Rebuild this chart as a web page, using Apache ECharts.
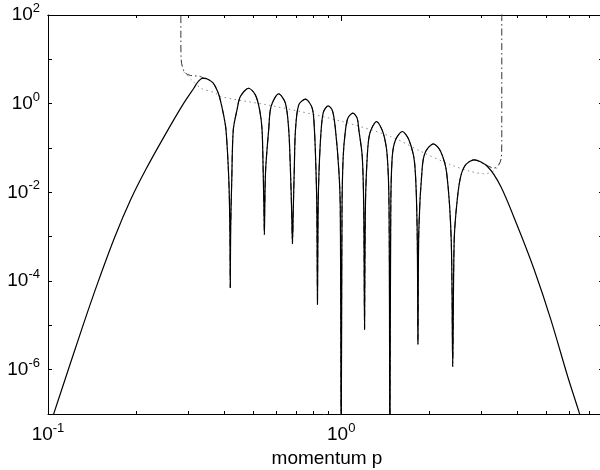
<!DOCTYPE html>
<html>
<head>
<meta charset="utf-8">
<script src="https://cdn.jsdelivr.net/npm/echarts@6/dist/echarts.min.js"></script>
<style>
  html, body { margin: 0; padding: 0; background: #fff; }
  #main { width: 600px; height: 470px; }
</style>
</head>
<body>
<div id="main"></div>
<script>
// solid curve: momentum p, value
var solidP = [0.1040, 0.1320, 0.1483, 0.1691, 0.1913, 0.2153, 0.2508, 0.2880, 0.3142, 0.3267, 0.3385,
  0.3520, 0.3662, 0.3810, 0.3868, 0.3970, 0.4046, 0.4137, 0.4172, 0.4185,
  0.4197, 0.4234, 0.4285, 0.4412, 0.4529, 0.4834, 0.5095, 0.5270, 0.5371, 0.5417, 0.5452, 0.5470,
  0.5485, 0.5524, 0.5658, 0.5764, 0.6121, 0.6452, 0.6622, 0.6711, 0.6775, 0.6819,
  0.6864, 0.6917, 0.6983, 0.7165, 0.7551, 0.7963, 0.8103, 0.8202, 0.8260, 0.8299,
  0.8340, 0.8405, 0.8544, 0.8700, 0.9029, 0.9339, 0.9561, 0.9813, 0.9929, 1.0000,
  1.0063, 1.0158, 1.0344, 1.0549, 1.0954, 1.1324, 1.1484, 1.1796, 1.1937, 1.2012,
  1.2087, 1.2269, 1.2523, 1.3199, 1.3913, 1.4359, 1.4562, 1.4655,
  1.4758, 1.4933, 1.5327, 1.6156, 1.7014, 1.7798, 1.8155, 1.8269,
  1.8401, 1.8910, 1.9410, 2.0628, 2.1840, 2.2895, 2.3725, 2.4006,
  2.4289, 2.4871, 2.5562, 2.6586, 2.8379, 3.1539, 3.5016, 3.9940, 4.5500, 5.1880, 5.9180, 6.4820, 6.5690];
var solidV = [9e-8, 1.05e-5, 9.7e-5, 1.0e-3, 6.8e-3, 0.0323, 0.198, 0.94, 2.23, 3.27, 3.75,
  3.52, 2.90, 1.72, 1.218, 0.56, 0.257, 0.0192, 1.45e-3, 7.08e-5,
  1.45e-3, 0.0192, 0.257, 0.724, 1.445, 2.23, 1.578, 0.724, 0.257, 0.0324, 4.07e-3, 1.11e-3,
  4.07e-3, 0.0324, 0.257, 0.861, 1.663, 1.026, 0.257, 0.0324, 4.07e-3, 6.9e-4,
  4.07e-3, 0.0324, 0.257, 0.94, 1.262, 0.792, 0.257, 0.0324, 4.07e-3, 2.95e-5,
  4.07e-3, 0.0324, 0.257, 0.653, 0.891, 0.689, 0.257, 0.0324, 4.07e-3, 1e-8,
  4.07e-3, 0.0644, 0.257, 0.479, 0.611, 0.479, 0.257, 0.0644, 4.07e-3, 8.1e-6,
  4.07e-3, 0.0644, 0.216, 0.395, 0.216, 0.0644, 4.07e-3, 1e-8,
  4.07e-3, 0.0644, 0.153, 0.2355, 0.153, 0.0457, 1.45e-3, 3.7e-6,
  1.45e-3, 0.0383, 0.0834, 0.1245, 0.0834, 0.0272, 8.5e-4, 1.17e-6,
  8.5e-4, 6.8e-3, 0.0228, 0.0419, 0.0542, 0.0383, 0.01355, 1.71e-3, 1.81e-4, 1.35e-5, 7.1e-7, 1.07e-7, 7.6e-8];

// dotted curve
var dotP = [0.2898, 0.3088, 0.3332, 0.3718, 0.3868, 0.5587, 0.7261, 1.010, 1.474, 1.911, 2.363, 2.765, 3.070, 3.322, 3.474];
var dotV = [5.28, 3.44, 2.21, 1.75, 1.445, 0.94, 0.664, 0.395, 0.1816, 0.078, 0.0419, 0.0296, 0.0262, 0.0306, 0.0465];

// dash-dot curve: walls on both ends, solid curve in between
var wallLeftP = [0.2839, 0.2839, 0.2846, 0.2880, 0.2938, 0.3055, 0.3306];
var wallLeftV = [200, 27.4, 9.69, 6.4, 4.94, 4.34, 4.12];
var wallRightP = [3.063, 3.322, 3.446, 3.515, 3.529, 3.529];
var wallRightV = [0.044, 0.0352, 0.0419, 0.0601, 0.153, 200];
var dashFrom = 0.3385, dashTo = 2.8379;

// axes
var xMin = 0.1, xMax = 8, yMin = 1e-7, yMax = 100;
var xMajorTicks = [0.1, 1];
var xMinorTicks = [0.2, 0.3, 0.4, 0.5, 0.6, 0.7, 0.8, 0.9, 2, 3, 4, 5, 6, 7, 8];

var font = 'Liberation Sans, Arial, Helvetica, sans-serif';

function pairs(xs, ys) {
  return xs.map(function (x, i) { return [x, ys[i]]; });
}

var dashP = [], dashV = [];
solidP.forEach(function (p, i) {
  if (p >= dashFrom && p <= dashTo) { dashP.push(p); dashV.push(solidV[i]); }
});
dashP = wallLeftP.concat(dashP, wallRightP);
dashV = wallLeftV.concat(dashV, wallRightV);

function expOf(v) {
  var l = Math.log(v) / Math.LN10;
  var e = Math.round(l);
  return Math.abs(l - e) < 1e-6 ? e : null;
}
var rich = {
  b: { fontSize: 19, fontFamily: font, color: '#000', lineHeight: 26 },
  s: { fontSize: 13, fontFamily: font, color: '#000', verticalAlign: 'top', lineHeight: 26 }
};

// an extra x axis that only carries inward ticks
function tickAxis(pos, values, len) {
  return {
    type: 'log', logBase: 10, min: xMin, max: xMax, position: pos,
    axisLine: { show: pos === 'top', lineStyle: { color: '#000', width: 1 } },
    axisTick: { show: true, inside: true, length: len, customValues: values, lineStyle: { color: '#000', width: 1 } },
    axisLabel: { show: false },
    splitLine: { show: false }
  };
}

var chart = echarts.init(document.getElementById('main'));

var option = {
  animation: false,
  grid: { left: 48, top: 15, width: 558, height: 399, outerBoundsMode: 'none' },
  xAxis: [{
    type: 'log', logBase: 10, min: xMin, max: xMax,
    axisLine: { show: true, lineStyle: { color: '#000', width: 1 } },
    axisTick: { show: true, inside: true, length: 6, customValues: xMajorTicks, lineStyle: { color: '#000', width: 1 } },
    splitLine: { show: false },
    axisLabel: {
      margin: 8,
      customValues: xMajorTicks,
      formatter: function (v) {
        var e = expOf(v);
        return e === null ? '' : '{b|10}{s|' + e + '}';
      },
      rich: rich
    },
    name: 'momentum p',
    nameLocation: 'middle',
    nameGap: 33,
    nameTextStyle: { fontSize: 19, fontFamily: font, color: '#000' }
  },
  tickAxis('bottom', xMinorTicks, 3),
  tickAxis('top', xMajorTicks, 6),
  tickAxis('top', xMinorTicks, 3)
  ],
  yAxis: [{
    type: 'log', logBase: 10, min: yMin, max: yMax, splitNumber: 9,
    axisLine: { show: true, lineStyle: { color: '#000', width: 1 } },
    axisTick: { show: true, inside: true, length: 4, lineStyle: { color: '#000' } },
    splitLine: { show: false },
    axisLabel: {
      margin: 8,
      formatter: function (v) {
        var e = expOf(v);
        return (e === null || e % 2 !== 0) ? '' : '{b|10}{s|' + e + '}';
      },
      rich: rich
    }
  }, {
    type: 'log', logBase: 10, min: yMin, max: yMax, splitNumber: 9, position: 'right',
    axisLine: { show: true, lineStyle: { color: '#000', width: 1 } },
    axisTick: { show: true, inside: true, length: 7, lineStyle: { color: '#000' } },
    splitLine: { show: false }, axisLabel: { show: false }
  }],
  series: [{
    name: 'envelope', type: 'line', data: pairs(dotP, dotV),
    showSymbol: false, symbol: 'none', clip: true, smooth: 0.3,
    lineStyle: { color: '#8a8a8a', width: 1, type: [1.5, 3.5] }
  }, {
    name: 'bound', type: 'line', data: pairs(dashP, dashV),
    showSymbol: false, symbol: 'none', clip: true, smooth: 0.3,
    lineStyle: { color: '#333', width: 1, type: [7, 3, 1.5, 3] }
  }, {
    name: 'density', type: 'line', data: pairs(solidP, solidV),
    showSymbol: false, symbol: 'none', clip: true, smooth: 0.3,
    lineStyle: { color: '#000', width: 1.2 }
  }]
};

chart.setOption(option);
</script>
</body>
</html>
